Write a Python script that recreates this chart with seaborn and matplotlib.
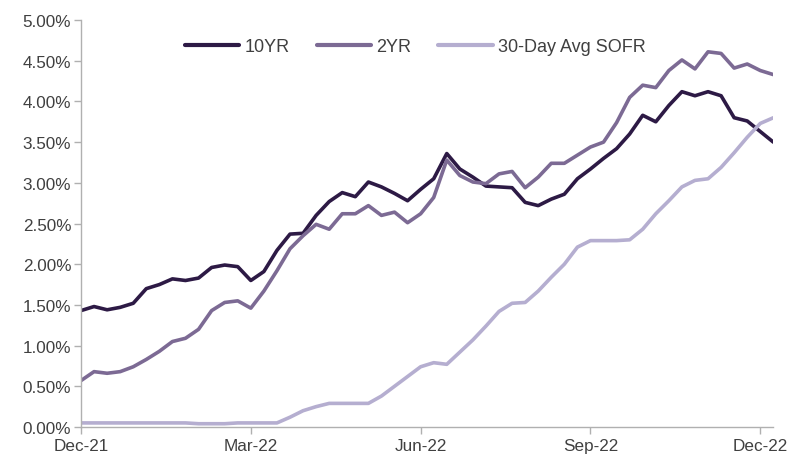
import matplotlib
matplotlib.use("Agg")
import matplotlib.pyplot as plt
import seaborn as sns
import pandas as pd
import numpy as np
from matplotlib.ticker import FuncFormatter

week = list(range(54))
tick_idx = [0, 13, 26, 39, 52]
tick_labels = ["Dec-21", "Mar-22", "Jun-22", "Sep-22", "Dec-22"]

yr10 = [1.43, 1.48, 1.44, 1.47, 1.52, 1.70, 1.75, 1.82, 1.80, 1.83, 1.96, 1.99, 1.97, 1.80,
        1.91, 2.17, 2.37, 2.38, 2.60, 2.77, 2.88, 2.83, 3.01, 2.95, 2.87, 2.78, 2.92, 3.05,
        3.36, 3.17, 3.07, 2.96, 2.95, 2.94, 2.76, 2.72, 2.80, 2.86, 3.05, 3.17, 3.30, 3.42,
        3.60, 3.83, 3.75, 3.95, 4.12, 4.07, 4.12, 4.07, 3.80, 3.76, 3.63, 3.50]
yr2 = [0.57, 0.68, 0.66, 0.68, 0.74, 0.83, 0.93, 1.05, 1.09, 1.20, 1.43, 1.53, 1.55, 1.46,
       1.67, 1.92, 2.19, 2.35, 2.49, 2.43, 2.62, 2.62, 2.72, 2.60, 2.64, 2.51, 2.62, 2.82,
       3.28, 3.09, 3.01, 2.99, 3.11, 3.14, 2.94, 3.07, 3.24, 3.24, 3.34, 3.44, 3.50, 3.74,
       4.05, 4.20, 4.17, 4.38, 4.51, 4.40, 4.61, 4.59, 4.41, 4.46, 4.38, 4.33]
sofr = [0.05, 0.05, 0.05, 0.05, 0.05, 0.05, 0.05, 0.05, 0.05, 0.04, 0.04, 0.04, 0.05, 0.05,
        0.05, 0.05, 0.12, 0.20, 0.25, 0.29, 0.29, 0.29, 0.29, 0.38, 0.50, 0.62, 0.74, 0.79,
        0.77, 0.92, 1.07, 1.24, 1.42, 1.52, 1.53, 1.67, 1.84, 2.00, 2.21, 2.29, 2.29, 2.29,
        2.30, 2.43, 2.62, 2.78, 2.95, 3.03, 3.05, 3.19, 3.37, 3.56, 3.73, 3.80]

series_names = ["10YR", "2YR", "30-Day Avg SOFR"]
colors = ["#2d1a45", "#7c6a94", "#b5aed0"]

df = pd.concat([
    pd.DataFrame({"week": week, "rate": vals, "series": name})
    for name, vals in zip(series_names, [yr10, yr2, sofr])
])

sns.set_theme(style="white")
plt.rcParams["font.family"] = ["Liberation Sans", "DejaVu Sans"]

fig = plt.figure(figsize=(7.94, 4.60), dpi=100)
ax = fig.add_axes([0.102, 0.0696, 0.872, 0.8846])

sns.lineplot(data=df, x="week", y="rate", hue="series", hue_order=series_names,
             palette=colors, linewidth=2.6, ax=ax, legend=True)

ax.set_xlim(0, 53)
ax.set_ylim(0, 5)
ax.set_yticks(np.arange(0, 5.01, 0.5))
ax.yaxis.set_major_formatter(FuncFormatter(lambda v, p: f"{v:.2f}%"))
ax.set_xticks(tick_idx)
ax.set_xticklabels(tick_labels)
ax.set_xlabel("")
ax.set_ylabel("")

for s in ["top", "right"]:
    ax.spines[s].set_visible(False)
for s in ["left", "bottom"]:
    ax.spines[s].set_color("#b0b0b0")
    ax.spines[s].set_linewidth(1.0)

ax.tick_params(axis="both", which="major", length=5, width=1.0, color="#b0b0b0",
               labelsize=12.3, labelcolor="#404040", direction="out", bottom=True, left=True)
ax.tick_params(axis="x", pad=3)
ax.tick_params(axis="y", pad=2)

leg = ax.legend(loc="upper center", bbox_to_anchor=(0.483, 0.995), ncol=3, frameon=False,
                fontsize=13, handlelength=3.0, columnspacing=1.5, handletextpad=0.3)
for line in leg.get_lines():
    line.set_linewidth(3)
for t in leg.get_texts():
    t.set_color("#404040")

fig.savefig("out.png", dpi=100)
